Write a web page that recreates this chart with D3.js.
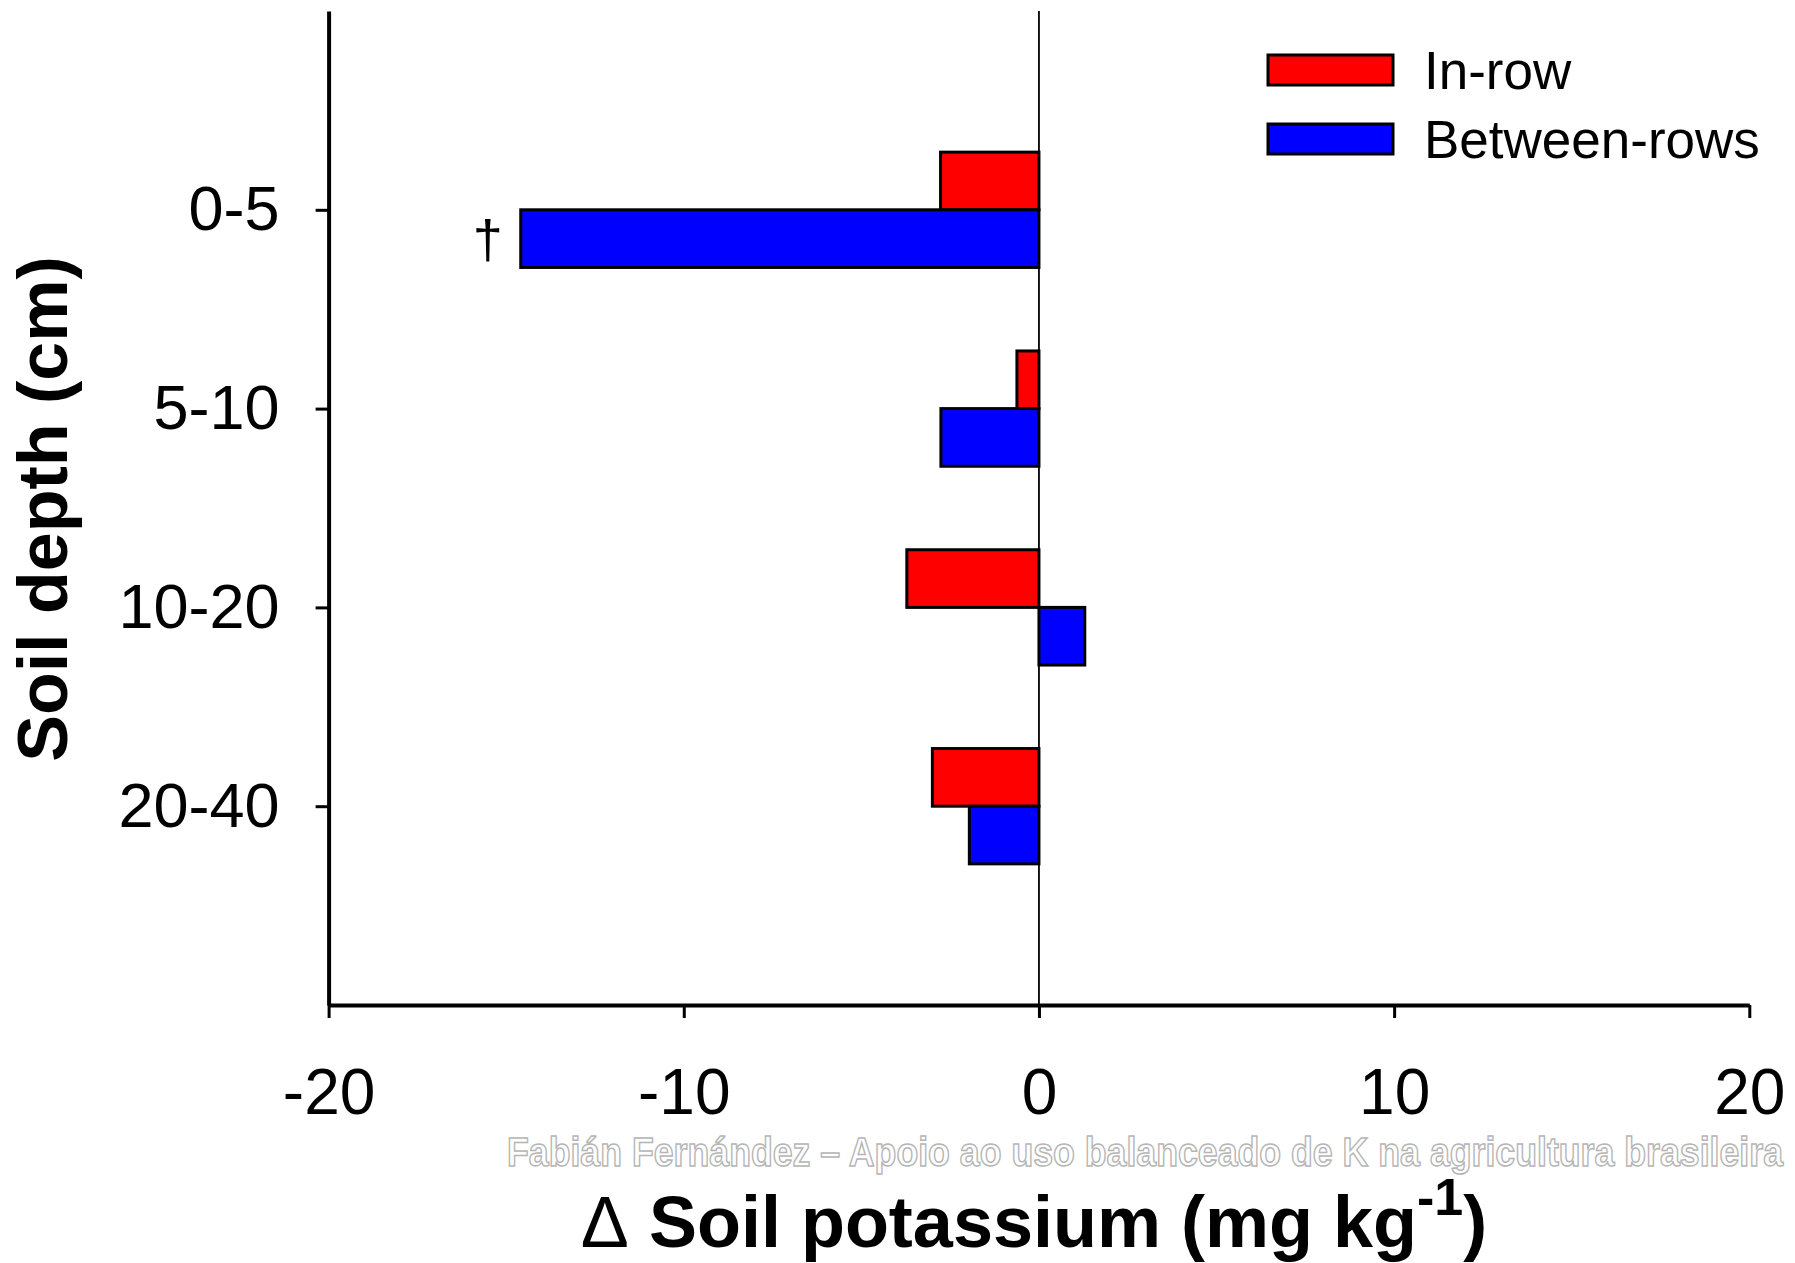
<!DOCTYPE html>
<html>
<head>
<meta charset="utf-8">
<script src="https://cdn.jsdelivr.net/npm/d3@7"></script>
<style>
  body { margin: 0; background: #fff; }
  svg { display: block; font-family: "Liberation Sans", Arial, sans-serif; }
</style>
</head>
<body>
<div id="chart"></div>
<script>
const depths = ["0-5", "5-10", "10-20", "20-40"];
const inRow = [-2.77, -0.62, -3.72, -3.0];
const betweenRows = [-14.59, -2.76, 1.29, -1.96];
const xTicks = [-20, -10, 0, 10, 20];
const seriesNames = ["In-row", "Between-rows"];
const seriesColors = ["#ff0000", "#0000ff"];

const width = 1795;
const height = 1263;
const plotLeft = 328.6, plotRight = 1749.3, plotTop = 11, plotBottom = 1005;

const svg = d3.select("#chart")
  .append("svg")
  .attr("width", width)
  .attr("height", height);

const x = d3.scaleLinear().domain([-20, 20]).range([plotLeft, plotRight]);
const y = d3.scalePoint().domain(depths).range([plotTop, plotBottom]).padding(1);
const barH = y.step() * 0.29;

// zero line
svg.append("line")
  .attr("x1", x(0)).attr("x2", x(0))
  .attr("y1", plotTop).attr("y2", plotBottom)
  .attr("stroke", "#000").attr("stroke-width", 1.8);

// bars
const rows = depths.map((d, i) => ({ d, a: inRow[i], b: betweenRows[i] }));

svg.append("g").selectAll("rect")
  .data(rows)
  .join("rect")
  .attr("x", r => x(Math.min(0, r.a)))
  .attr("y", r => y(r.d) - barH)
  .attr("width", r => Math.abs(x(r.a) - x(0)))
  .attr("height", barH)
  .attr("fill", seriesColors[0])
  .attr("stroke", "#000").attr("stroke-width", 3);

svg.append("g").selectAll("rect")
  .data(rows)
  .join("rect")
  .attr("x", r => x(Math.min(0, r.b)))
  .attr("y", r => y(r.d))
  .attr("width", r => Math.abs(x(r.b) - x(0)))
  .attr("height", barH)
  .attr("fill", seriesColors[1])
  .attr("stroke", "#000").attr("stroke-width", 3);

// dagger next to the long blue bar
svg.append("text")
  .attr("x", x(betweenRows[0]) - 18)
  .attr("y", y(depths[0]) + barH / 2)
  .attr("dy", "0.35em")
  .attr("text-anchor", "end")
  .attr("font-size", 54)
  .text("\u2020");

// axes
const xAxis = svg.append("g")
  .attr("transform", `translate(0,${plotBottom})`)
  .call(d3.axisBottom(x).tickValues(xTicks).tickFormat(d => String(d))
    .tickSize(13).tickSizeOuter(0).tickPadding(51));
xAxis.select(".domain").attr("stroke-width", 4);
xAxis.selectAll(".tick line").attr("stroke-width", 3);
xAxis.selectAll(".tick text")
  .attr("font-size", 64)
  .attr("font-family", "Liberation Sans, Arial, sans-serif")
  .attr("fill", "#000");

const yAxis = svg.append("g")
  .attr("transform", `translate(${plotLeft},0)`)
  .call(d3.axisLeft(y).tickSize(13).tickSizeOuter(0).tickPadding(36));
yAxis.select(".domain").attr("stroke-width", 4);
yAxis.selectAll(".tick line").attr("stroke-width", 3);
yAxis.selectAll(".tick text")
  .attr("font-size", 63)
  .attr("font-family", "Liberation Sans, Arial, sans-serif")
  .attr("fill", "#000");

// legend
const legend = svg.append("g");
seriesNames.forEach((name, i) => {
  const ly = 55 + i * 69;
  legend.append("rect")
    .attr("x", 1268).attr("y", ly)
    .attr("width", 125).attr("height", 30)
    .attr("fill", seriesColors[i])
    .attr("stroke", "#000").attr("stroke-width", 3);
  legend.append("text")
    .attr("x", 1424).attr("y", ly + 15)
    .attr("dy", "0.35em")
    .attr("font-size", 53)
    .text(name);
});

// axis titles
svg.append("text")
  .attr("transform", "translate(67,509) rotate(-90)")
  .attr("text-anchor", "middle")
  .attr("font-size", 70)
  .attr("font-weight", "bold")
  .text("Soil depth (cm)");

const xt = svg.append("text")
  .attr("x", 1034).attr("y", 1247)
  .attr("text-anchor", "middle")
  .attr("font-size", 72)
  .attr("font-weight", "bold");
xt.append("tspan").attr("font-weight", "normal").text("\u0394");
xt.append("tspan").text(" Soil potassium (mg kg");
xt.append("tspan").attr("dy", -32).attr("font-size", 52).text("-1");
xt.append("tspan").attr("dy", 32).text(")");

// watermark
svg.append("text")
  .attr("x", 507).attr("y", 1166)
  .attr("textLength", 1276)
  .attr("lengthAdjust", "spacingAndGlyphs")
  .attr("font-size", 40)
  .attr("font-weight", "bold")
  .attr("font-family", "Liberation Sans Narrow, Liberation Sans, sans-serif")
  .attr("fill", "#fff")
  .attr("stroke", "#b5b5b5")
  .attr("stroke-width", 1.5)
  .text("Fabián Fernández – Apoio ao uso balanceado de K na agricultura brasileira");
</script>
</body>
</html>
